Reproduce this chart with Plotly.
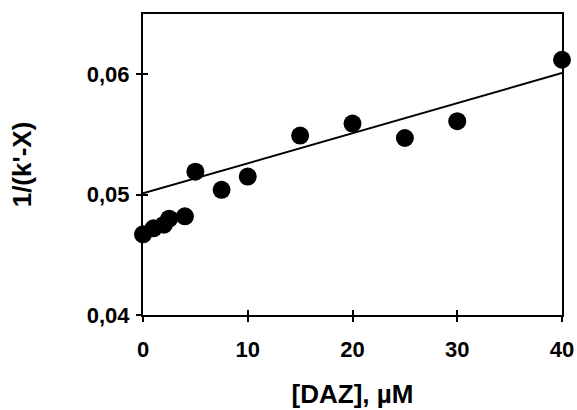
import plotly.graph_objects as go

daz = [0, 1, 2, 2.5, 4, 5, 7.5, 10, 15, 20, 25, 30, 40]
inv_k = [0.0467, 0.0472, 0.0475, 0.0480, 0.0482, 0.0519, 0.0504, 0.0515,
         0.0549, 0.0559, 0.0547, 0.0561, 0.0612]
fit_x = [0, 40]
fit_y = [0.0501, 0.0601]

x_ticks = [0, 10, 20, 30, 40]
x_tick_labels = ["0", "10", "20", "30", "40"]
y_ticks = [0.04, 0.05, 0.06]
y_tick_labels = ["0,04", "0,05", "0,06"]

FAM = "Liberation Sans, Arial, sans-serif"
tickfont = dict(family=FAM, size=22, color="black")
titlefont = dict(family=FAM, size=26, color="black")

fig = go.Figure()
fig.add_trace(go.Scatter(x=fit_x, y=fit_y, mode="lines",
                         line=dict(color="black", width=2), showlegend=False))
fig.add_trace(go.Scatter(x=daz, y=inv_k, mode="markers",
                         marker=dict(color="black", size=18), showlegend=False,
                         cliponaxis=False))
# invisible trace on overlay axes for inside tick marks
fig.add_trace(go.Scatter(x=[0], y=[0.04], xaxis="x2", yaxis="y2", mode="markers",
                         marker=dict(opacity=0), showlegend=False, hoverinfo="skip"))

fig.update_layout(
    width=577, height=410,
    margin=dict(l=143, r=15, t=14, b=95),
    paper_bgcolor="white", plot_bgcolor="white",
    font=dict(family=FAM, size=22, color="black"),
    xaxis=dict(range=[0, 40], tickvals=x_ticks,
               ticktext=["<b>%s</b>" % t for t in x_tick_labels],
               ticks="outside", ticklen=5, automargin=False,
               tickwidth=2, tickcolor="black", showline=True, linecolor="black",
               linewidth=2, mirror=True, showgrid=False, zeroline=False,
               tickfont=tickfont,
               title=dict(text="<b>[DAZ], µM</b>", standoff=23, font=titlefont),
               ticklabelstandoff=9),
    yaxis=dict(range=[0.04, 0.065], tickvals=y_ticks,
               ticktext=["<b>%s</b>" % t for t in y_tick_labels],
               ticks="outside", ticklen=5, tickwidth=2, tickcolor="black",
               showline=True, linecolor="black", linewidth=2, mirror=True,
               showgrid=False, zeroline=False, automargin=False,
               tickfont=tickfont, ticklabelstandoff=2,
               title=dict(text="<b>1/(k'-X)</b>", standoff=48, font=titlefont)),
    xaxis2=dict(range=[0, 40], tickvals=x_ticks, ticks="inside", ticklen=5,
                tickwidth=2, tickcolor="black", overlaying="x", showticklabels=False,
                showgrid=False, zeroline=False, showline=False, anchor="y2"),
    yaxis2=dict(range=[0.04, 0.065], tickvals=y_ticks, ticks="inside", ticklen=5,
                tickwidth=2, tickcolor="black", overlaying="y", showticklabels=False,
                showgrid=False, zeroline=False, showline=False, anchor="x2"),
)

fig.write_html("out.html", config={"displayModeBar": False},
               post_script="document.body.style.margin='0';document.body.style.overflow='hidden';")
